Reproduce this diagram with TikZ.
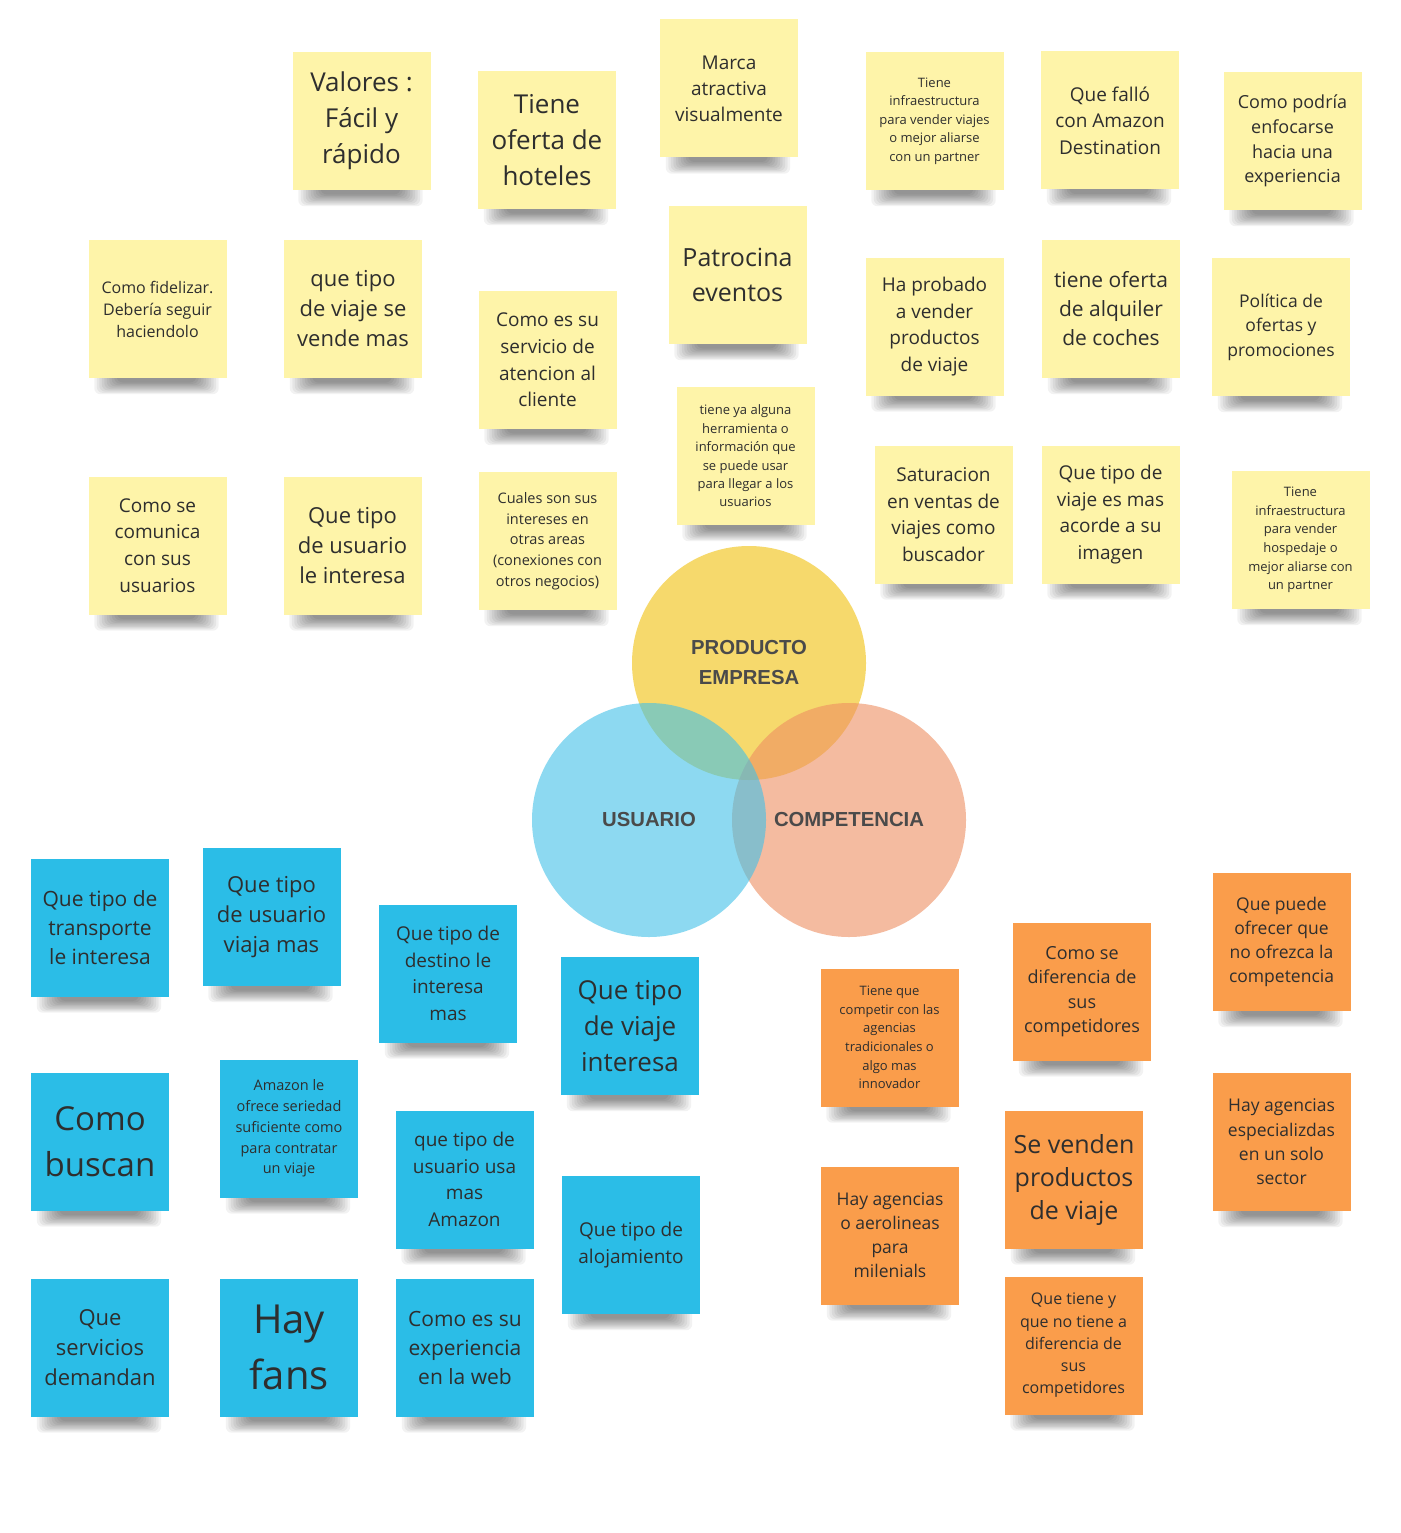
\documentclass[tikz,border=0pt]{standalone}
\usepackage{fontspec}
\setmainfont{Open Sans}
\newfontfamily\vennfont{Liberation Sans}
\usetikzlibrary{positioning}
\usetikzlibrary{calc}
\pgfdeclarelayer{background}
\pgfsetlayers{background,main}
\definecolor{noteyellow}{HTML}{FEF4A9}
\definecolor{noteblue}{HTML}{2BBDE7}
\definecolor{noteorange}{HTML}{FA9D4B}
\definecolor{notetext}{HTML}{2E2E2E}
\definecolor{vennyellow}{HTML}{F6D96C}
\definecolor{vennorange}{HTML}{EE8E61}
\definecolor{vennblue}{HTML}{41C1E8}
\definecolor{venntext}{HTML}{4A4A4A}
\tikzset{
  postit/.style={rectangle, minimum width=138pt, minimum height=138pt, inner sep=2pt, align=center, text=notetext},
  yellownote/.style={postit, fill=noteyellow},
  bluenote/.style={postit, fill=noteblue},
  orangenote/.style={postit, fill=noteorange},
  fs/.style 2 args={font=\fontsize{#1}{#2}\selectfont},
  venn/.style={circle, minimum size=234pt, inner sep=0pt, text=venntext, align=center,
    font=\vennfont\bfseries\fontsize{20.3}{30}\selectfont},
  noteshadow/.style={black, opacity=0.05, rounded corners=6pt}
}

\begin{document}
\begin{tikzpicture}[x=1pt,y=-1pt]
  \useasboundingbox (0,0) rectangle (1400,1533);
  \begin{pgfonlayer}{background}
    \fill[white] (0,0) rectangle (1400,1533);
  \end{pgfonlayer}

  % venn
  \node[venn, fill=vennyellow] (producto) at (749,663) {PRODUCTO\\EMPRESA};
  \node[venn, fill=vennorange, fill opacity=0.6, text opacity=1] (competencia) at (849,820) {COMPETENCIA};
  \node[venn, fill=vennblue, fill opacity=0.6, text opacity=1] (usuario) at (649,820) {USUARIO};

  % producto / empresa
  \node[yellownote, fs={26}{36}] (valores) at (361.5,121) {Valores :\\Fácil y\\rápido};
  \node[yellownote, fs={26}{36}] (hoteles) at (547,140) {Tiene\\oferta de\\hoteles};
  \node[yellownote, fs={19}{26}] (marca) at (729,88.5) {Marca\\atractiva\\visualmente};
  \node[yellownote, fs={13}{18.5}] (infraviajes) at (934.5,121) {Tiene\\infraestructura\\para vender viajes\\o mejor aliarse\\con un partner};
  \node[yellownote, fs={19}{26.5}] (fallo) at (1110,120.5) {Que falló\\con Amazon\\Destination};
  \node[yellownote, fs={18}{24.7}] (enfoque) at (1292.5,141) {Como podría\\enfocarse\\hacia una\\experiencia};
  \node[yellownote, fs={16}{22}] (fidelizar) at (157.5,309) {Como fidelizar.\\Debería seguir\\haciendolo};
  \node[yellownote, fs={22}{30}] (tipoviaje) at (353,309) {que tipo\\de viaje se\\vende mas};
  \node[yellownote, fs={19}{26.7}] (atencion) at (547.5,360) {Como es su\\servicio de\\atencion al\\cliente};
  \node[yellownote, fs={25}{35}] (patrocina) at (737.5,275) {Patrocina\\eventos};
  \node[yellownote, fs={19}{26.7}] (probado) at (934.5,326.5) {Ha probado\\a vender\\productos\\de viaje};
  \node[yellownote, fs={21}{29}] (coches) at (1111,309) {tiene oferta\\de alquiler\\de coches};
  \node[yellownote, fs={17.5}{24.5}] (ofertas) at (1281,327) {Política de\\ofertas y\\promociones};
  \node[yellownote, fs={13}{18.4}] (herramienta) at (745.5,456) {tiene ya alguna\\herramienta o\\información que\\se puede usar\\para llegar a los\\usuarios};
  \node[yellownote, fs={19}{26.7}] (comunica) at (157.5,545.5) {Como se\\comunica\\con sus\\usuarios};
  \node[yellownote, fs={22}{30}] (tipousuario) at (352.5,545.5) {Que tipo\\de usuario\\le interesa};
  \node[yellownote, fs={14.5}{20.75}] (intereses) at (547.5,541) {Cuales son sus\\intereses en\\otras areas\\(conexiones con\\otros negocios)};
  \node[yellownote, fs={19}{26.7}] (saturacion) at (943.5,514.5) {Saturacion\\en ventas de\\viajes como\\buscador};
  \node[yellownote, fs={19}{26.7}] (imagen) at (1110.5,514.5) {Que tipo de\\viaje es mas\\acorde a su\\imagen};
  \node[yellownote, fs={13}{18.6}] (infrahospedaje) at (1300.5,540) {Tiene\\infraestructura\\para vender\\hospedaje o\\mejor aliarse con\\un partner};

  % usuario
  \node[bluenote, fs={21}{29}] (transporte) at (100,927.5) {Que tipo de\\transporte\\le interesa};
  \node[bluenote, fs={22}{30}] (viajamas) at (271.5,917) {Que tipo\\de usuario\\viaja mas};
  \node[bluenote, fs={19}{26.7}] (destino) at (448,973.5) {Que tipo de\\destino le\\interesa\\mas};
  \node[bluenote, fs={26}{36}] (viajeinteresa) at (630,1026) {Que tipo\\de viaje\\interesa};
  \node[bluenote, fs={33}{46}] (buscan) at (100,1141.5) {Como\\buscan};
  \node[bluenote, fs={14.5}{20.75}] (seriedad) at (289,1128.5) {Amazon le\\ofrece seriedad\\suficiente como\\para contratar\\un viaje};
  \node[bluenote, fs={19}{26.7}] (usaamazon) at (464.5,1179.5) {que tipo de\\usuario usa\\mas\\Amazon};
  \node[bluenote, fs={19}{27}] (alojamiento) at (631,1245) {Que tipo de\\alojamiento};
  \node[bluenote, fs={22}{30}] (servicios) at (100,1347.5) {Que\\servicios\\demandan};
  \node[bluenote, fs={40}{56}] (fans) at (289,1347.5) {Hay\\fans};
  \node[bluenote, fs={21}{29}] (web) at (465,1347.5) {Como es su\\experiencia\\en la web};

  % competencia
  \node[orangenote, fs={13}{18.6}] (competir) at (889.5,1037.5) {Tiene que\\competir con las\\agencias\\tradicionales o\\algo mas\\innovador};
  \node[orangenote, fs={18}{24.3}] (diferencia) at (1082,991.5) {Como se\\diferencia de\\sus\\competidores};
  \node[orangenote, fs={17.5}{24}] (ofrecer) at (1281.5,942) {Que puede\\ofrecer que\\no ofrezca la\\competencia};
  \node[orangenote, fs={17.5}{24}] (milenials) at (890,1235.5) {Hay agencias\\o aerolineas\\para\\milenials};
  \node[orangenote, fs={25}{33}] (sevenden) at (1074,1179.5) {Se venden\\productos\\de viaje};
  \node[orangenote, fs={17.5}{24.3}] (especializadas) at (1281.5,1142) {Hay agencias\\especializdas\\en un solo\\sector};
  \node[orangenote, fs={16}{22.25}] (quetiene) at (1073.5,1345.5) {Que tiene y\\que no tiene a\\diferencia de\\sus\\competidores};

  % shadows under the notes
  \begin{pgfonlayer}{background}
    \foreach \n in {valores,hoteles,marca,infraviajes,fallo,enfoque,fidelizar,tipoviaje,atencion,patrocina,
                    probado,coches,ofertas,herramienta,comunica,tipousuario,intereses,saturacion,imagen,infrahospedaje,
                    transporte,viajamas,destino,viajeinteresa,buscan,seriedad,usaamazon,alojamiento,servicios,fans,web,
                    competir,diferencia,ofrecer,milenials,sevenden,especializadas,quetiene}
      \foreach \k in {0,...,9}
        \fill[noteshadow] ($(\n.south west)+(6+2.5*\k,-8)$) rectangle ($(\n.south east)+(-8-2.5*\k,16-1.3*\k)$);
  \end{pgfonlayer}
\end{tikzpicture}
\end{document}
